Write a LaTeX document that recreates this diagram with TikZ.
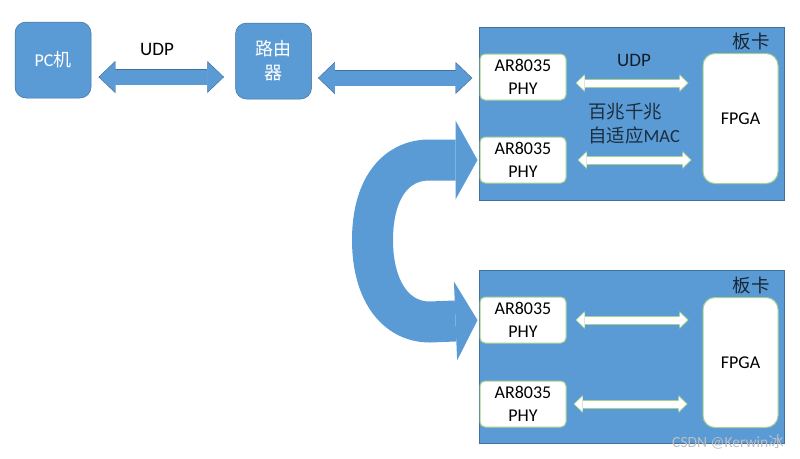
\documentclass[tikz,border=0pt]{standalone}
\usepackage{fontspec}
\setmainfont{Carlito}
\newfontfamily\cjk{Noto Sans CJK SC}
\usetikzlibrary{arrows.meta}
\definecolor{boardblue}{HTML}{5B9BD5}
\definecolor{edgeblue}{HTML}{41719C}
\definecolor{edgegreen}{HTML}{A9D18E}
\tikzset{
  label/.style={inner sep=0pt,align=center,font=\fontsize{18}{23}\selectfont},
  labelcjk/.style={label,font=\fontsize{18.5}{24}\selectfont\cjk\color{#1}},
  device/.style={label,text=white,fill=boardblue,draw=edgeblue,line width=.5pt,
    rounded corners=11pt,minimum width=76pt,minimum height=76pt},
  board/.style={fill=boardblue,draw=edgeblue,line width=.8pt,minimum width=305pt,minimum height=173pt},
  phy/.style={label,fill=white,draw=edgegreen,line width=1pt,rounded corners=5pt,
    minimum width=86pt,minimum height=46pt},
  fpga/.style={label,fill=white,draw=edgegreen,line width=1pt,rounded corners=12pt,
    minimum width=75pt,minimum height=130pt},
  linkblue/.style 2 args={line width=15pt,draw=boardblue,shorten <=#1,shorten >=#2,
    {Triangle[length=16pt,width=30pt,line width=0pt]}-{Triangle[length=16pt,width=30pt,line width=0pt]},
    preaction={draw=edgeblue,line width=16pt,shorten <=#1-.8pt,shorten >=#2-.8pt,
      {Triangle[length=16.8pt,width=32pt,line width=0pt]}-{Triangle[length=16.8pt,width=32pt,line width=0pt]}}},
  linkwhite/.style 2 args={line width=7pt,draw=white,shorten <=#1,shorten >=#2,
    {Triangle[length=8pt,width=15pt,line width=0pt]}-{Triangle[length=8pt,width=15pt,line width=0pt]},
    preaction={draw=edgegreen,line width=9pt,shorten <=#1-1pt,shorten >=#2-1pt,
      {Triangle[length=9pt,width=18pt,line width=0pt]}-{Triangle[length=9pt,width=18pt,line width=0pt]}}},
  loopback/.style={line width=41pt,draw=boardblue,line cap=butt,shorten <=2pt,shorten >=2pt,
    {Triangle[length=22pt,width=79pt,line width=0pt]}-{Triangle[length=22pt,width=79pt,line width=0pt]}},
}
\begin{document}
\begin{tikzpicture}[x=1pt,y=-1pt]
  \useasboundingbox (0,0) rectangle (800,458);
  \draw
    (53,60) node[device] (pc){PC{\cjk 机}}
    (273.5,61) node[device,font=\fontsize{18}{24}\selectfont\cjk] (router){路由\\器}
    (631.5,113.5) node[board] (board1){}
    (631.5,356.5) node[board] (board2){}
    (523,77) node[phy] (phy1){AR8035\\PHY}
    (523,160) node[phy] (phy2){AR8035\\PHY}
    (523,320) node[phy] (phy3){AR8035\\PHY}
    (523,404) node[phy] (phy4){AR8035\\PHY}
    (740.5,118.5) node[fpga] (fpga1){FPGA}
    (740.5,362.5) node[fpga] (fpga2){FPGA}
    (157,49) node[label,font=\fontsize{19}{23}\selectfont] (udp1){UDP}
    (634,60) node[label,font=\fontsize{19}{23}\selectfont,text=black!80!boardblue] (udp2){UDP}
    (634,123.5) node[labelcjk=black!70!boardblue,align=left] (mac){百兆千兆\\自适应{\fontspec{Carlito}MAC}}
    (751,41) node[labelcjk=black!75!boardblue] (card1){板卡}
    (751,285) node[labelcjk=black!75!boardblue] (card2){板卡}
    (728,442) node[inner sep=0pt,text=white!75!black,font=\fontsize{15.5}{15.5}\selectfont] (mark){CSDN @Kerwin{\cjk 冰}};
  \begin{scope}
    \draw[linkblue={8pt}{12pt}] ([yshift=-17pt]pc.east) to ([yshift=-16pt]router.west);
    \draw[linkblue={7pt}{7pt}] ([yshift=-17pt]router.east) to ([yshift=35.5pt]board1.west);
    \draw[linkwhite={10pt}{15pt}] ([yshift=-6pt]phy1.east) to ([yshift=35.5pt]fpga1.west);
    \draw[linkwhite={12pt}{12pt}] (phy2.east) to ([yshift=-41.5pt]fpga1.west);
    \draw[linkwhite={10pt}{15pt}] (phy3.east) to ([yshift=42.5pt]fpga2.west);
    \draw[linkwhite={8pt}{16pt}] (phy4.east) to ([yshift=-41.5pt]fpga2.west);
    \draw[loopback] (phy2.west) -- ++(-50,0)
      .. controls +(-35,0) and (372.5,190) .. (372.5,240)
      .. controls (372.5,290) and (395,322) .. (430,322) -- (phy3.west);
  \end{scope}
\end{tikzpicture}
\end{document}
